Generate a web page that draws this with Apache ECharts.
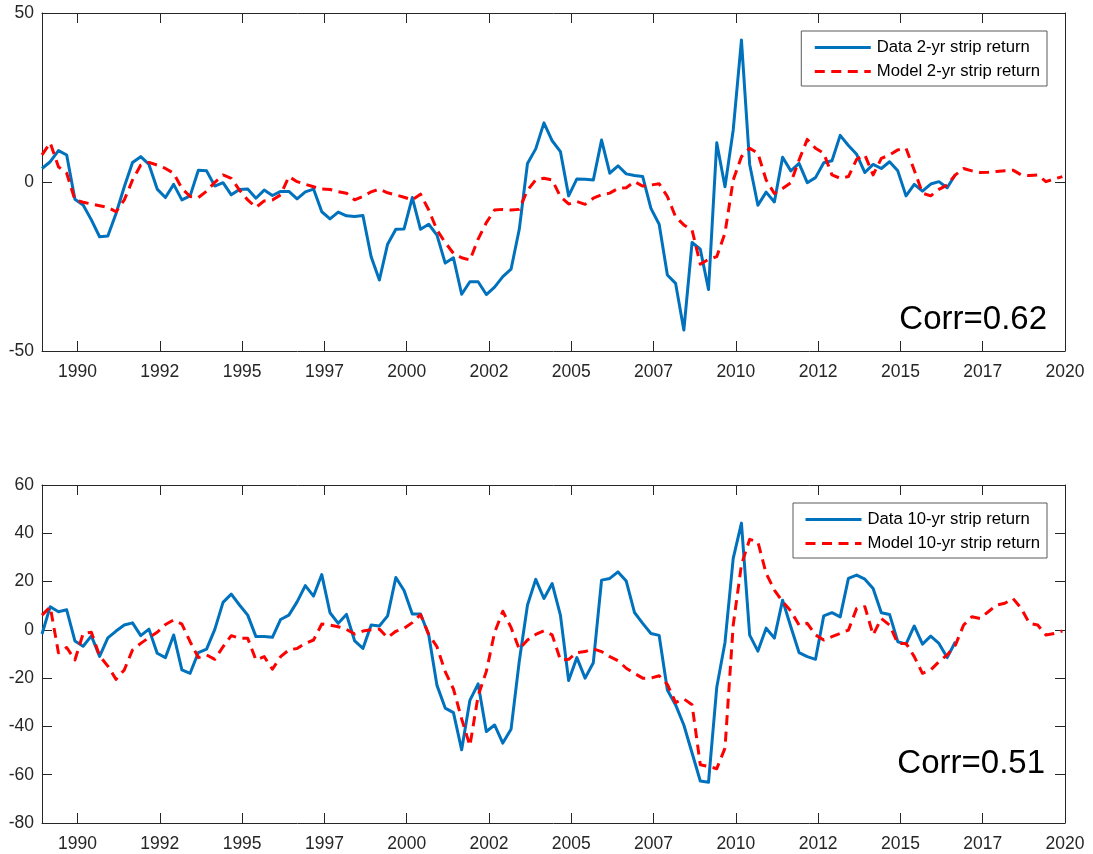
<!DOCTYPE html>
<html>
<head>
<meta charset="utf-8">
<script src="https://cdn.jsdelivr.net/npm/echarts@6/dist/echarts.min.js"></script>
<style>
  html, body { margin: 0; padding: 0; background: #ffffff; }
  #chart { width: 1093px; height: 854px; }
</style>
</head>
<body>
<div id="chart"></div>
<script>
// Quarterly observations: first quarter (decimal year) and spacing
const firstQuarter = 1988.92;
const quarterStep = 0.25;

// Year ticks every 2.5 years, labelled by calendar year
const yearTicks = [1990, 1992.5, 1995, 1997.5, 2000, 2002.5, 2005, 2007.5, 2010, 2012.5, 2015, 2017.5, 2020];

// 2-year strip returns (%)
const data2yr = [
  4.0, 6.0, 9.3, 8.0, -5.1, -6.8, -11.2, -16.2, -16.0, -9.3,
  -1.4, 5.8, 7.5, 5.2, -2.1, -4.6, -0.7, -5.3, -4.1, 3.5,
  3.3, -1.2, -0.2, -3.8, -2.2, -2.1, -4.8, -2.4, -4.0, -2.8,
  -2.8, -5.0, -2.9, -2.1, -8.8, -10.9, -8.9, -10.0, -10.2, -9.9,
  -22.1, -29.0, -18.4, -14.0, -13.9, -4.6, -14.0, -12.5, -15.7, -24.0,
  -22.4, -33.2, -29.5, -29.5, -33.3, -31.1, -28.0, -25.8, -14.0, 5.5,
  9.8, 17.5, 12.2, 9.0, -4.1, 0.9, 0.8, 0.6, 12.4, 2.6,
  4.8, 2.4, 1.9, 1.6, -7.8, -12.5, -27.5, -30.0, -43.8, -17.9,
  -19.9, -31.8, 11.6, -1.4, 15.4, 42.0, 5.2, -6.9, -3.0, -5.9,
  7.3, 3.3, 5.5, -0.2, 1.3, 5.7, 6.3, 13.8, 10.8, 8.2,
  2.8, 5.2, 4.0, 6.0, 3.3, -4.1, -0.7, -2.7, -0.6, 0.1,
  -1.7, 2.2
];
const model2yr = [
  8.0, 11.6, 4.5, 2.6, -5.3, -6.0, -6.5, -7.0, -7.5, -8.8,
  -5.3, 0.6, 5.0, 5.8, 5.0, 4.0, 2.6, -1.9, -4.3, -4.6,
  -2.7, -0.1, 2.1, 1.1, -2.4, -5.3, -7.5, -5.6, -5.3, -3.8,
  1.6, 0.1, -0.7, -1.4, -2.1, -2.2, -2.9, -3.3, -5.3, -4.3,
  -2.9, -2.1, -3.2, -3.8, -4.5, -5.3, -3.6, -8.3, -14.2, -17.9,
  -21.1, -22.4, -23.1, -16.9, -12.0, -8.3, -8.1, -8.3, -8.1, -2.4,
  0.6, 1.1, 0.6, -4.3, -6.5, -5.8, -6.6, -4.8, -3.8, -3.3,
  -1.9, -1.7, 0.1, -1.2, -0.9, -0.5, -4.3, -10.3, -12.7, -14.2,
  -24.3, -22.9, -22.1, -15.1, 0.6, 7.5, 10.0, 8.5, 0.6, -3.4,
  -1.9, -0.2, 6.5, 12.6, 10.0, 8.5, 2.1, 1.1, 1.6, 6.7,
  8.0, 2.1, 7.0, 8.0, 9.5, 10.0, 3.5, -3.3, -4.1, -2.2,
  -0.9, 2.1, 4.0, 3.3, 2.8, 2.9, 3.1, 3.3, 3.5, 2.1,
  1.9, 2.1, 0.1, 0.9, 1.6
];

// 10-year strip returns (%)
const data10yr = [
  -1.7, 9.6, 7.5, 8.3, -4.6, -6.8, -2.5, -11.0, -3.3, -0.5,
  2.0, 2.9, -2.4, 0.3, -9.7, -11.5, -2.1, -16.6, -18.0, -9.4,
  -8.0, 0.2, 11.4, 14.8, 10.3, 6.1, -2.8, -2.8, -3.1, 4.3,
  6.1, 11.6, 18.3, 14.0, 22.9, 7.1, 2.7, 6.4, -4.6, -7.7,
  2.0, 1.6, 5.8, 21.7, 16.3, 6.6, 6.6, -2.1, -23.0, -32.4,
  -34.3, -49.7, -29.2, -22.4, -42.1, -39.4, -46.9, -41.2, -13.0, 10.3,
  20.9, 13.0, 19.2, 6.1, -21.0, -11.5, -20.0, -13.6, 20.6, 21.3,
  24.0, 20.2, 7.2, 2.7, -1.5, -2.3, -24.9, -31.1, -39.4, -51.0,
  -62.6, -63.1, -23.8, -5.2, 29.6, 44.2, -2.2, -8.8, 0.7, -3.4,
  12.3, 1.3, -9.4, -11.1, -12.2, 5.8, 7.1, 5.4, 21.3, 22.7,
  21.0, 17.1, 7.1, 6.4, -4.9, -5.9, 1.6, -5.9, -2.6, -5.6,
  -11.5, -4.9
];
const model10yr = [
  6.1, 9.5, -9.5, -7.3, -12.5, -1.5, -1.0, -10.8, -15.0, -20.5,
  -16.6, -8.3, -5.6, -3.2, -1.0, 2.2, 4.1, 2.4, -4.9, -11.5,
  -10.4, -12.2, -7.0, -2.4, -3.5, -3.5, -12.5, -11.1, -16.3, -11.1,
  -8.3, -7.7, -5.6, -4.2, 2.4, 2.0, 1.3, 0.2, -1.7, -0.5,
  0.0, 0.3, -3.2, -0.6, 0.6, 3.0, 6.3, -1.9, -7.0, -17.3,
  -24.5, -36.9, -48.0, -27.3, -17.2, -1.1, 7.7, 1.0, -8.0, -4.2,
  -1.9, -0.4, -2.1, -12.5, -12.2, -9.4, -9.0, -7.9, -9.0, -11.1,
  -12.8, -15.9, -18.0, -20.0, -20.0, -19.0, -22.6, -30.1, -28.6, -31.0,
  -55.9, -56.6, -57.5, -49.0, 2.0, 27.0, 37.5, 36.4, 23.4, 16.5,
  11.7, 7.8, 2.0, 2.7, -2.1, -4.2, -2.8, -1.5, -0.1, 8.9,
  9.6, -2.1, 4.7, 2.0, -5.6, -5.6, -11.1, -18.0, -16.6, -13.2,
  -10.4, -6.3, 2.0, 5.4, 4.7, 7.5, 10.3, 11.0, 13.0, 8.9,
  2.7, 2.0, -2.1, -1.5, -0.5
];

const corrTop = 'Corr=0.62';
const corrBottom = 'Corr=0.51';

const seriesNames = [
  'Data 2-yr strip return', 'Model 2-yr strip return',
  'Data 10-yr strip return', 'Model 10-yr strip return'
];

const FONT = "'Liberation Sans', Arial, Helvetica, sans-serif";
const AXIS_COLOR = '#262626';
const BLUE = '#0072BD';
const RED = '#FF0000';
const DASH = [10, 6.5];

function toPoints(values) {
  return values.map((v, i) => [firstQuarter + i * quarterStep, v]);
}

function xAxisFor(gridIndex, position) {
  const bottom = position === 'bottom';
  return {
    type: 'value',
    gridIndex: gridIndex,
    position: position,
    min: firstQuarter,
    max: 2020,
    axisLine: { show: true, onZero: false, lineStyle: { color: AXIS_COLOR, width: 1 } },
    axisTick: { show: true, inside: true, length: 10, customValues: yearTicks,
      lineStyle: { color: AXIS_COLOR, width: 1 } },
    axisLabel: { show: bottom, customValues: yearTicks, margin: 12,
      formatter: v => String(Math.floor(v)),
      fontFamily: FONT, fontSize: 17.5, color: AXIS_COLOR },
    splitLine: { show: false }
  };
}

function yAxisFor(gridIndex, position, min, max, interval) {
  const left = position === 'left';
  return {
    type: 'value',
    gridIndex: gridIndex,
    position: position,
    min: min, max: max, interval: interval,
    axisLine: { show: true, onZero: false, lineStyle: { color: AXIS_COLOR, width: 1 } },
    axisTick: { show: true, inside: true, length: 10, lineStyle: { color: AXIS_COLOR, width: 1 } },
    axisLabel: { show: left, margin: 8, fontFamily: FONT, fontSize: 17.5, color: AXIS_COLOR,
      showMinLabel: true, showMaxLabel: true },
    splitLine: { show: false }
  };
}

function lineSeries(name, values, xi, yi, color, dashed) {
  return {
    name: name,
    type: 'line',
    xAxisIndex: xi,
    yAxisIndex: yi,
    data: toPoints(values),
    symbol: 'none',
    smooth: false,
    animation: false,
    lineStyle: { color: color, width: 3, type: dashed ? DASH : 'solid', cap: 'butt', join: 'round' },
    itemStyle: { color: color }
  };
}

function legendFor(names, top, right, pad) {
  return {
    data: names,
    orient: 'vertical',
    top: top,
    right: right,
    itemWidth: 56,
    itemHeight: 14,
    itemGap: 7,
    padding: pad,
    backgroundColor: '#ffffff',
    borderColor: '#5a5a5a',
    borderWidth: 1,
    borderRadius: 0,
    selectedMode: false,
    // only the line sample is shown in each key, no marker
    itemStyle: { opacity: 0, borderWidth: 0 },
    lineStyle: { width: 3 },
    textStyle: { fontFamily: FONT, fontSize: 16.7, color: '#000000', padding: [0, 0, 0, 1] }
  };
}

const chart = echarts.init(document.getElementById('chart'), null, { renderer: 'canvas' });

chart.setOption({
  backgroundColor: '#ffffff',
  animation: false,
  grid: [
    { left: 42, right: 28, top: 13, height: 338 },
    { left: 42, right: 28, top: 485, height: 338 }
  ],
  xAxis: [
    xAxisFor(0, 'bottom'), xAxisFor(0, 'top'),
    xAxisFor(1, 'bottom'), xAxisFor(1, 'top')
  ],
  yAxis: [
    yAxisFor(0, 'left', -50, 50, 50), yAxisFor(0, 'right', -50, 50, 50),
    yAxisFor(1, 'left', -80, 60, 20), yAxisFor(1, 'right', -80, 60, 20)
  ],
  legend: [
    legendFor([seriesNames[0], seriesNames[1]], 31, 46, [8, 7, 6, 12]),
    legendFor([seriesNames[2], seriesNames[3]], 503, 46, [8, 7, 6, 11])
  ],
  series: [
    lineSeries(seriesNames[0], data2yr, 0, 0, BLUE, false),
    lineSeries(seriesNames[1], model2yr, 0, 0, RED, true),
    lineSeries(seriesNames[2], data10yr, 2, 2, BLUE, false),
    lineSeries(seriesNames[3], model10yr, 2, 2, RED, true)
  ],
  graphic: [
    { type: 'text', right: 46, top: 303, z: 100,
      style: { text: corrTop, font: '33px ' + FONT, fill: '#000000' } },
    { type: 'text', right: 48, top: 747, z: 100,
      style: { text: corrBottom, font: '33px ' + FONT, fill: '#000000' } }
  ]
});
</script>
</body>
</html>
